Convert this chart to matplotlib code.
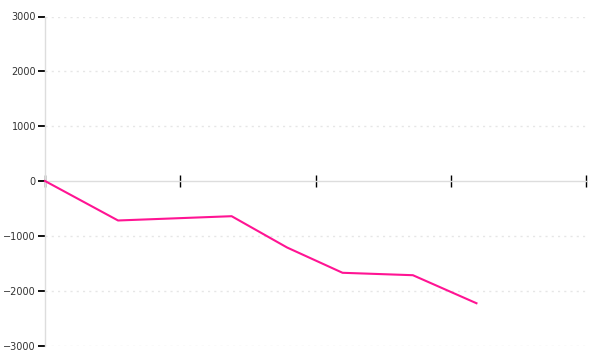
import matplotlib
matplotlib.use("Agg")
import matplotlib.pyplot as plt

x_vals = [0, 0.54, 1.38, 1.79, 2.20, 2.72, 3.19]
y_vals = [0, -720, -642, -1213, -1674, -1718, -2229]
x_ticks = [0, 1, 2, 3, 4]
y_ticks = [-3000, -2000, -1000, 0, 1000, 2000, 3000]
y_labels = ["\u22123000", "\u22122000", "\u22121000", "0", "1000", "2000", "3000"]

fig = plt.figure(figsize=(6, 3.6), dpi=100)
ax = fig.add_axes([45/600, 14.5/360, 541/600, 329/360])

ax.plot(x_vals, y_vals, color="#ff1493", lw=1.5, solid_joinstyle="round",
        clip_on=False, zorder=3)

ax.set_xlim(0, 4)
ax.set_ylim(-3000, 3000)
ax.set_xticks(x_ticks)
ax.set_xticklabels([])
ax.set_yticks(y_ticks)
ax.set_yticklabels(y_labels)

for s in ["top", "right"]:
    ax.spines[s].set_visible(False)
ax.spines["left"].set_color("#dddddd")
ax.spines["left"].set_linewidth(1)
ax.spines["bottom"].set_position(("data", 0))
ax.spines["bottom"].set_color("#dddddd")
ax.spines["bottom"].set_linewidth(1)

ax.tick_params(axis="x", direction="inout", length=9, width=1.0, color="black")
ax.tick_params(axis="y", direction="out", length=5, width=1.4, color="#111111",
               labelsize=7, labelcolor="#333333", pad=1.5)

for yv in y_ticks:
    if yv != 0:
        ax.axhline(yv, color="#e6e6e6", lw=1, ls=(0, (1.5, 3)), zorder=0)

fig.savefig("out.png", dpi=100)
